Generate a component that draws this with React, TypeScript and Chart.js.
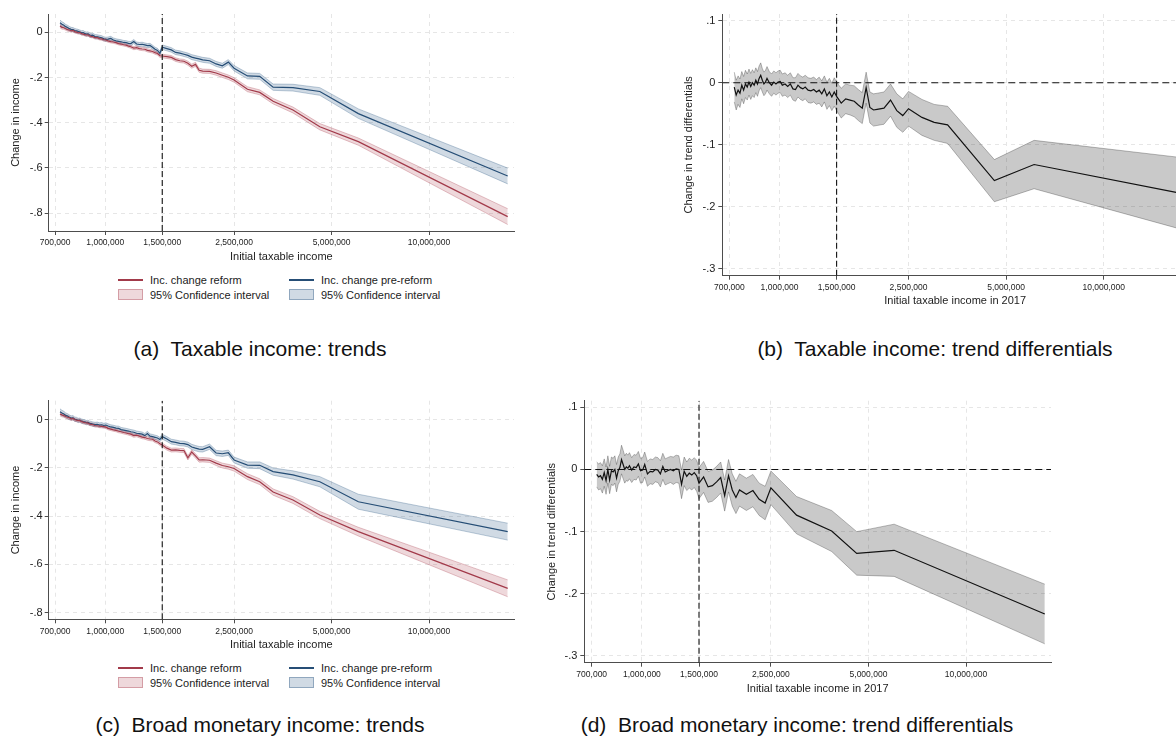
import { useEffect, useRef } from "react";
import { Chart, registerables } from "chart.js";

Chart.register(...registerables);
Chart.defaults.font.family = "'Liberation Sans', Arial, sans-serif";
Chart.defaults.color = "#222";

// income bins (shared low / mid parts)
const lowIncome = [
  725000, 735000, 745000, 755000, 765000, 775000, 785000, 795000, 805000, 815000,
  825000, 835000, 845000, 855000, 865000, 875000, 885000, 895000, 905000, 915000,
  930000, 945000, 960000, 975000, 990000, 1005000, 1020000, 1040000, 1060000, 1080000,
  1100000, 1120000, 1140000, 1160000, 1180000, 1200000, 1225000, 1250000, 1275000, 1300000,
  1325000, 1350000, 1375000, 1400000, 1425000, 1450000, 1475000, 1500000,
];
const midIncome = [
  1550000, 1600000, 1650000, 1700000, 1750000, 1800000, 1850000, 1900000, 1950000, 2000000,
  2100000, 2200000, 2300000, 2400000,
];
const trendIncome = [...lowIncome, ...midIncome, 2500000, 2750000, 3000000, 3300000, 3800000, 4600000, 6050000, 17500000];
const diffIncomeB = [...lowIncome, ...midIncome, 2500000, 2750000, 3000000, 3300000, 4600000, 6100000, 17500000];
const diffIncomeD = [...lowIncome, ...midIncome, 2500000, 3000000, 3850000, 4600000, 6000000, 17500000];

const xTicks = [700000, 1000000, 1500000, 2500000, 5000000, 10000000];
const trendTicks = [0, -0.2, -0.4, -0.6, -0.8];
const diffTicks = [0.1, 0, -0.1, -0.2, -0.3];
const cutoff = 1500000;

// (a) taxable income: trends
const reformA = [
  0.028, 0.022, 0.020, 0.016, 0.012, 0.010, 0.006, 0.008, 0.003, 0.001,
  -0.002, -0.001, -0.006, -0.008, -0.010, -0.012, -0.011, -0.016, -0.018, -0.019,
  -0.024, -0.024, -0.028, -0.029, -0.033, -0.034, -0.038, -0.041, -0.043, -0.046,
  -0.050, -0.052, -0.055, -0.057, -0.061, -0.064, -0.070, -0.068, -0.072, -0.074,
  -0.075, -0.080, -0.082, -0.085, -0.090, -0.094, -0.104, -0.105,
  -0.108, -0.111, -0.121, -0.126, -0.128, -0.137, -0.150, -0.142, -0.168, -0.172,
  -0.173, -0.180, -0.190, -0.199,
  -0.211, -0.252, -0.266, -0.305, -0.344, -0.418, -0.484, -0.816,
];
const reformCiA = [
  0.008, 0.008, 0.007, 0.007, 0.007, 0.007, 0.006, 0.006, 0.006, 0.006,
  0.006, 0.006, 0.006, 0.006, 0.006, 0.006, 0.006, 0.006, 0.006, 0.006,
  0.006, 0.006, 0.006, 0.006, 0.006, 0.006, 0.006, 0.006, 0.006, 0.006,
  0.006, 0.006, 0.006, 0.006, 0.006, 0.007, 0.007, 0.007, 0.007, 0.007,
  0.007, 0.007, 0.007, 0.007, 0.007, 0.007, 0.007, 0.008,
  0.008, 0.008, 0.008, 0.008, 0.008, 0.009, 0.009, 0.009, 0.009, 0.009,
  0.009, 0.010, 0.010, 0.010,
  0.010, 0.011, 0.011, 0.012, 0.013, 0.014, 0.016, 0.035,
];
const preA = [
  0.042, 0.036, 0.031, 0.025, 0.021, 0.016, 0.013, 0.012, 0.008, 0.006,
  0.004, 0.001, -0.002, -0.001, -0.006, -0.008, -0.007, -0.012, -0.014, -0.013,
  -0.019, -0.020, -0.022, -0.024, -0.029, -0.031, -0.030, -0.027, -0.034, -0.038,
  -0.040, -0.042, -0.045, -0.046, -0.049, -0.050, -0.041, -0.052, -0.054, -0.053,
  -0.056, -0.059, -0.058, -0.066, -0.075, -0.080, -0.093, -0.066,
  -0.072, -0.078, -0.089, -0.092, -0.097, -0.102, -0.110, -0.114, -0.118, -0.122,
  -0.126, -0.140, -0.148, -0.132,
  -0.159, -0.193, -0.195, -0.243, -0.245, -0.262, -0.360, -0.636,
];
const preCiA = [
  0.012, 0.011, 0.011, 0.010, 0.010, 0.010, 0.009, 0.009, 0.009, 0.009,
  0.009, 0.009, 0.009, 0.009, 0.009, 0.009, 0.009, 0.009, 0.009, 0.009,
  0.009, 0.009, 0.009, 0.009, 0.009, 0.009, 0.009, 0.009, 0.009, 0.009,
  0.009, 0.009, 0.009, 0.009, 0.009, 0.009, 0.009, 0.009, 0.009, 0.009,
  0.009, 0.009, 0.009, 0.009, 0.009, 0.009, 0.009, 0.010,
  0.010, 0.010, 0.010, 0.010, 0.010, 0.010, 0.011, 0.011, 0.011, 0.011,
  0.011, 0.011, 0.011, 0.011,
  0.012, 0.013, 0.013, 0.014, 0.015, 0.017, 0.021, 0.035,
];

// (c) broad monetary income: trends
const reformC = [
  0.024, 0.020, 0.017, 0.013, 0.010, 0.008, 0.003, 0.005, 0.000, -0.002,
  -0.004, -0.003, -0.008, -0.010, -0.012, -0.013, -0.014, -0.018, -0.019, -0.021,
  -0.024, -0.025, -0.027, -0.028, -0.029, -0.031, -0.036, -0.039, -0.042, -0.044,
  -0.048, -0.050, -0.053, -0.055, -0.058, -0.060, -0.066, -0.064, -0.068, -0.072,
  -0.074, -0.078, -0.080, -0.081, -0.088, -0.092, -0.100, -0.105,
  -0.118, -0.126, -0.125, -0.127, -0.128, -0.158, -0.134, -0.150, -0.167, -0.166,
  -0.168, -0.180, -0.190, -0.195,
  -0.202, -0.236, -0.257, -0.300, -0.333, -0.395, -0.464, -0.699,
];
const reformCiC = [
  0.008, 0.008, 0.007, 0.007, 0.007, 0.007, 0.006, 0.006, 0.006, 0.006,
  0.006, 0.006, 0.006, 0.006, 0.006, 0.006, 0.006, 0.006, 0.006, 0.006,
  0.006, 0.006, 0.006, 0.006, 0.006, 0.006, 0.006, 0.006, 0.006, 0.006,
  0.006, 0.006, 0.006, 0.006, 0.006, 0.007, 0.007, 0.007, 0.007, 0.007,
  0.007, 0.007, 0.007, 0.007, 0.007, 0.007, 0.007, 0.008,
  0.008, 0.008, 0.008, 0.008, 0.008, 0.009, 0.009, 0.009, 0.009, 0.009,
  0.009, 0.010, 0.010, 0.010,
  0.011, 0.012, 0.012, 0.013, 0.014, 0.015, 0.018, 0.035,
];
const preC = [
  0.033, 0.028, 0.024, 0.018, 0.015, 0.010, 0.007, 0.008, 0.002, 0.001,
  -0.003, -0.002, -0.006, -0.008, -0.009, -0.012, -0.011, -0.015, -0.016, -0.018,
  -0.020, -0.019, -0.022, -0.021, -0.024, -0.022, -0.026, -0.030, -0.032, -0.035,
  -0.036, -0.041, -0.043, -0.045, -0.047, -0.050, -0.052, -0.056, -0.058, -0.060,
  -0.066, -0.057, -0.068, -0.070, -0.073, -0.076, -0.082, -0.070,
  -0.080, -0.091, -0.094, -0.098, -0.099, -0.103, -0.113, -0.118, -0.122, -0.123,
  -0.112, -0.138, -0.141, -0.137,
  -0.167, -0.188, -0.189, -0.215, -0.229, -0.257, -0.340, -0.464,
];
const preCiC = [
  0.012, 0.011, 0.011, 0.010, 0.010, 0.010, 0.009, 0.009, 0.009, 0.009,
  0.009, 0.009, 0.009, 0.009, 0.009, 0.009, 0.009, 0.009, 0.009, 0.009,
  0.009, 0.009, 0.009, 0.009, 0.009, 0.009, 0.009, 0.009, 0.009, 0.009,
  0.009, 0.009, 0.009, 0.009, 0.009, 0.009, 0.009, 0.009, 0.009, 0.009,
  0.009, 0.009, 0.009, 0.009, 0.009, 0.009, 0.009, 0.010,
  0.010, 0.010, 0.010, 0.010, 0.010, 0.010, 0.011, 0.011, 0.011, 0.011,
  0.011, 0.011, 0.011, 0.011,
  0.012, 0.013, 0.014, 0.015, 0.017, 0.021, 0.031, 0.035,
];

// (b) taxable income: trend differentials
const diffB = [
  -0.007, -0.020, -0.012, -0.017, -0.004, -0.012, -0.002, -0.007, 0.001, -0.006,
  0.000, -0.004, 0.004, -0.002, 0.007, 0.012, 0.004, -0.002, 0.001, 0.007,
  0.000, -0.004, 0.001, -0.002, 0.001, 0.002, -0.004, -0.002, -0.006, -0.002,
  -0.010, -0.011, -0.004, -0.008, -0.010, -0.007, -0.012, -0.013, -0.011, -0.015,
  -0.012, -0.018, -0.010, -0.021, -0.015, -0.023, -0.015, -0.022,
  -0.033, -0.026, -0.028, -0.030, -0.036, -0.041, -0.008, -0.040, -0.044, -0.043,
  -0.041, -0.028, -0.045, -0.053,
  -0.042, -0.056, -0.064, -0.068, -0.158, -0.132, -0.179,
];
const diffCiB = [
  0.024, 0.024, 0.023, 0.023, 0.022, 0.022, 0.022, 0.021, 0.021, 0.021,
  0.021, 0.020, 0.020, 0.020, 0.020, 0.020, 0.019, 0.019, 0.019, 0.019,
  0.018, 0.018, 0.018, 0.018, 0.018, 0.018, 0.018, 0.018, 0.018, 0.018,
  0.018, 0.019, 0.019, 0.019, 0.019, 0.019, 0.020, 0.020, 0.020, 0.020,
  0.021, 0.021, 0.021, 0.022, 0.022, 0.022, 0.023, 0.023,
  0.024, 0.024, 0.024, 0.025, 0.025, 0.025, 0.025, 0.025, 0.026, 0.026,
  0.026, 0.026, 0.027, 0.027,
  0.028, 0.029, 0.029, 0.030, 0.034, 0.039, 0.058,
];

// (d) broad monetary income: trend differentials
const diffD = [
  -0.008, -0.012, -0.010, -0.016, -0.005, -0.018, 0.000, -0.017, -0.002, -0.004,
  0.000, -0.014, -0.002, 0.003, 0.016, 0.008, 0.000, 0.004, 0.002, 0.006,
  -0.001, 0.004, 0.003, 0.009, -0.002, -0.001, 0.008, -0.007, -0.003, -0.004,
  0.000, -0.001, -0.007, 0.005, -0.004, -0.002, 0.000, -0.002, 0.001, 0.000,
  -0.024, -0.003, -0.011, -0.006, -0.009, -0.005, -0.010, -0.022,
  -0.012, -0.028, -0.026, -0.020, -0.013, -0.042, -0.010, -0.033, -0.045, -0.033,
  -0.040, -0.034, -0.048, -0.054,
  -0.0295, -0.0735, -0.099, -0.135, -0.130, -0.2325,
];
const diffCiD = [
  0.020, 0.021, 0.021, 0.022, 0.022, 0.022, 0.022, 0.022, 0.022, 0.022,
  0.022, 0.022, 0.022, 0.022, 0.023, 0.023, 0.022, 0.022, 0.021, 0.021,
  0.020, 0.020, 0.020, 0.020, 0.020, 0.020, 0.020, 0.020, 0.020, 0.020,
  0.020, 0.020, 0.021, 0.021, 0.021, 0.021, 0.021, 0.022, 0.022, 0.022,
  0.023, 0.023, 0.023, 0.024, 0.024, 0.024, 0.025, 0.025,
  0.025, 0.025, 0.025, 0.025, 0.025, 0.025, 0.026, 0.026, 0.026, 0.026,
  0.026, 0.026, 0.026, 0.027,
  0.027, 0.030, 0.033, 0.035, 0.042, 0.048,
];

const RED = "rgb(162, 58, 74)";
const RED_FILL = "rgba(170, 60, 75, 0.2)";
const RED_EDGE = "rgba(170, 60, 75, 0.38)";
const BLUE = "rgb(38, 78, 118)";
const BLUE_FILL = "rgba(40, 85, 130, 0.22)";
const BLUE_EDGE = "rgba(40, 85, 130, 0.38)";
const GRAY_FILL = "rgba(0, 0, 0, 0.21)";
const GRAY_EDGE = "rgba(0, 0, 0, 0.33)";
const AXIS = "#4d4d4d";
const GRID = "#e6e6e6";

type Series = {
  x: number[];
  y: number[];
  ci: number[];
  line: string;
  fill: string;
  edge: string;
  width: number;
};

type PanelProps = {
  left: number;
  top: number;
  width: number;
  height: number;
  plot: { l: number; t: number; r: number; b: number };
  xMin: number;
  xMax: number;
  yMin: number;
  yMax: number;
  yTicks: number[];
  xTitle: string;
  yTitle: string;
  xTitleY: number;
  yTitleX: number;
  yTickPad: number;
  series: Series[];
  zeroLine?: boolean;
};

const fmtY = (v: number) => {
  if (Math.abs(v) < 1e-9) return "0";
  return (v < 0 ? "-" : "") + Math.abs(v).toFixed(1).replace(/^0/, "");
};

const Panel = (p: PanelProps) => {
  const chartRef = useRef<HTMLCanvasElement>(null);

  useEffect(() => {
    if (!chartRef.current) return;
    const pts = (xs: number[], ys: number[]) => xs.map((x, i) => ({ x, y: ys[i] }));
    const datasets: any[] = [];

    // confidence bands: lower edge, then upper edge filled down to it
    p.series.forEach((s) => {
      datasets.push({
        data: pts(s.x, s.y.map((v, i) => v - s.ci[i])),
        borderColor: s.edge,
        borderWidth: 0.8,
        fill: false,
        order: 3,
      });
      datasets.push({
        data: pts(s.x, s.y.map((v, i) => v + s.ci[i])),
        borderColor: s.edge,
        borderWidth: 0.8,
        backgroundColor: s.fill,
        fill: "-1",
        order: 3,
      });
    });
    p.series.forEach((s) => {
      datasets.push({
        data: pts(s.x, s.y),
        borderColor: s.line,
        borderWidth: s.width,
        fill: false,
        order: 1,
      });
    });
    // reform threshold
    datasets.push({
      data: [
        { x: cutoff, y: p.yMin },
        { x: cutoff, y: p.yMax },
      ],
      borderColor: "#111",
      borderWidth: 1.1,
      borderDash: [6, 3],
      fill: false,
      order: 0,
    });
    if (p.zeroLine) {
      datasets.push({
        data: [
          { x: p.xMin, y: 0 },
          { x: p.xMax, y: 0 },
        ],
        borderColor: "#111",
        borderWidth: 1.1,
        borderDash: [7, 4],
        fill: false,
        order: 0,
      });
    }

    const gridOpts = {
      color: GRID,
      tickColor: AXIS,
      tickLength: 4,
      tickWidth: 1,
      tickBorderDash: [],
      borderDash: [4, 4],
    };
    const borderOpts = { color: AXIS, width: 1, dash: [4, 4] };

    const chart = new Chart(chartRef.current, {
      type: "line",
      data: { datasets },
      options: {
        animation: false,
        responsive: true,
        maintainAspectRatio: false,
        layout: {
          padding: {
            left: 0,
            top: p.plot.t - p.top,
            right: p.left + p.width - p.plot.r,
            bottom: 0,
          },
        },
        elements: {
          point: { radius: 0, hoverRadius: 0 },
          line: { tension: 0 },
        },
        plugins: {
          legend: { display: false },
          tooltip: { enabled: false },
        },
        scales: {
          x: {
            type: "logarithmic",
            min: p.xMin,
            max: p.xMax,
            afterBuildTicks: (s: any) => {
              s.ticks = xTicks.map((v) => ({ value: v }));
            },
            afterFit: (s: any) => {
              s.height = p.top + p.height - p.plot.b;
            },
            ticks: {
              autoSkip: false,
              maxRotation: 0,
              minRotation: 0,
              padding: 3,
              color: "#222",
              font: { size: 8.5 },
              callback: (v: any) => Number(v).toLocaleString("en-US"),
            },
            grid: gridOpts as any,
            border: borderOpts,
            title: {
              display: true,
              text: p.xTitle,
              color: "#222",
              font: { size: 11 },
              padding: { top: 0, bottom: p.top + p.height - p.xTitleY - 6.6 },
            },
          },
          y: {
            type: "linear",
            min: p.yMin,
            max: p.yMax,
            afterBuildTicks: (s: any) => {
              s.ticks = p.yTicks.map((v) => ({ value: v }));
            },
            afterFit: (s: any) => {
              s.width = p.plot.l - p.left;
            },
            ticks: {
              padding: p.yTickPad,
              color: "#222",
              font: { size: 11 },
              callback: (v: any) => fmtY(Number(v)),
            },
            grid: gridOpts as any,
            border: borderOpts,
            title: {
              display: true,
              text: p.yTitle,
              color: "#222",
              font: { size: 11 },
              padding: { top: p.yTitleX - p.left - 6.6, bottom: 0 },
            },
          },
        },
      },
    });

    return () => {
      chart.destroy();
    };
  }, []);

  return (
    <div
      style={{
        position: "absolute",
        left: p.left,
        top: p.top,
        width: p.width,
        height: p.height,
      }}
    >
      <canvas ref={chartRef}></canvas>
    </div>
  );
};

const textStyle = {
  position: "absolute" as const,
  fontFamily: "'Liberation Sans', Arial, sans-serif",
  fontSize: 11,
  lineHeight: "14px",
  color: "#222",
  whiteSpace: "nowrap" as const,
};

const Legend = ({ row }: { row: number }) => {
  const r = Math.round(row);
  return (
    <>
      <div style={{ position: "absolute", left: 118, top: r - 1, width: 25, height: 0, borderTop: `2px solid ${RED}` }} />
      <div style={{ ...textStyle, left: 150, top: r - 7 }}>Inc. change reform</div>
      <div style={{ position: "absolute", left: 289, top: r - 1, width: 25, height: 0, borderTop: `2px solid ${BLUE}` }} />
      <div style={{ ...textStyle, left: 321, top: r - 7 }}>Inc. change pre-reform</div>
      <div
        style={{
          position: "absolute",
          left: 118,
          top: r + 9,
          width: 25,
          height: 11,
          boxSizing: "border-box",
          background: RED_FILL,
          border: `1px solid ${RED_EDGE}`,
        }}
      />
      <div style={{ ...textStyle, left: 150, top: r + 8 }}>95% Confidence interval</div>
      <div
        style={{
          position: "absolute",
          left: 289,
          top: r + 9,
          width: 25,
          height: 11,
          boxSizing: "border-box",
          background: BLUE_FILL,
          border: `1px solid ${BLUE_EDGE}`,
        }}
      />
      <div style={{ ...textStyle, left: 321, top: r + 8 }}>95% Confidence interval</div>
    </>
  );
};

const Caption = ({ cx, baseline, text }: { cx: number; baseline: number; text: string }) => (
  <div
    style={{
      position: "absolute",
      left: cx - 300,
      width: 600,
      top: baseline - 19,
      textAlign: "center",
      fontFamily: "'Liberation Sans', Arial, sans-serif",
      fontSize: 21,
      lineHeight: "24px",
      color: "#111",
      whiteSpace: "pre",
    }}
  >
    {text}
  </div>
);

export default function App() {
  return (
    <div
      style={{
        position: "fixed",
        left: 0,
        top: 0,
        width: 1176,
        height: 747,
        overflow: "hidden",
        background: "#fff",
      }}
    >
      <Panel
        left={0}
        top={0}
        width={520}
        height={266}
        plot={{ l: 48.7, t: 14, r: 514, b: 231 }}
        xMin={669000}
        xMax={18300000}
        yMin={-0.8796}
        yMax={0.081}
        yTicks={trendTicks}
        xTitle="Initial taxable income"
        yTitle="Change in income"
        xTitleY={257}
        yTitleX={15.5}
        yTickPad={2}
        series={[
          { x: trendIncome, y: reformA, ci: reformCiA, line: RED, fill: RED_FILL, edge: RED_EDGE, width: 1.2 },
          { x: trendIncome, y: preA, ci: preCiA, line: BLUE, fill: BLUE_FILL, edge: BLUE_EDGE, width: 1.2 },
        ]}
      />
      <Legend row={280} />
      <Caption cx={260} baseline={356} text="(a)  Taxable income: trends" />

      <Panel
        left={678}
        top={0}
        width={516}
        height={310}
        plot={{ l: 722.3, t: 14, r: 1188, b: 275.7 }}
        xMin={666000}
        xMax={18200000}
        yMin={-0.3113}
        yMax={0.1108}
        yTicks={diffTicks}
        xTitle="Initial taxable income in 2017"
        yTitle="Change in trend differentials"
        xTitleY={301}
        yTitleX={689.3}
        yTickPad={3}
        zeroLine
        series={[
          { x: diffIncomeB, y: diffB, ci: diffCiB, line: "#111", fill: GRAY_FILL, edge: GRAY_EDGE, width: 1.2 },
        ]}
      />
      <Caption cx={935} baseline={356} text="(b)  Taxable income: trend differentials" />

      <Panel
        left={0}
        top={390}
        width={520}
        height={264}
        plot={{ l: 48.7, t: 400.7, r: 514, b: 619.3 }}
        xMin={669000}
        xMax={18300000}
        yMin={-0.8274}
        yMax={0.0788}
        yTicks={trendTicks}
        xTitle="Initial taxable income"
        yTitle="Change in income"
        xTitleY={645}
        yTitleX={15.5}
        yTickPad={2}
        series={[
          { x: trendIncome, y: reformC, ci: reformCiC, line: RED, fill: RED_FILL, edge: RED_EDGE, width: 1.2 },
          { x: trendIncome, y: preC, ci: preCiC, line: BLUE, fill: BLUE_FILL, edge: BLUE_EDGE, width: 1.2 },
        ]}
      />
      <Legend row={667.7} />
      <Caption cx={260} baseline={731.7} text="(c)  Broad monetary income: trends" />

      <Panel
        left={540}
        top={390}
        width={517}
        height={306}
        plot={{ l: 584.3, t: 400.7, r: 1051, b: 662.7 }}
        xMin={664000}
        xMax={18290000}
        yMin={-0.3108}
        yMax={0.1106}
        yTicks={diffTicks}
        xTitle="Initial taxable income in 2017"
        yTitle="Change in trend differentials"
        xTitleY={689.3}
        yTitleX={551.7}
        yTickPad={3}
        zeroLine
        series={[
          { x: diffIncomeD, y: diffD, ci: diffCiD, line: "#111", fill: GRAY_FILL, edge: GRAY_EDGE, width: 1.2 },
        ]}
      />
      <Caption cx={797} baseline={731.7} text="(d)  Broad monetary income: trend differentials" />
    </div>
  );
}
